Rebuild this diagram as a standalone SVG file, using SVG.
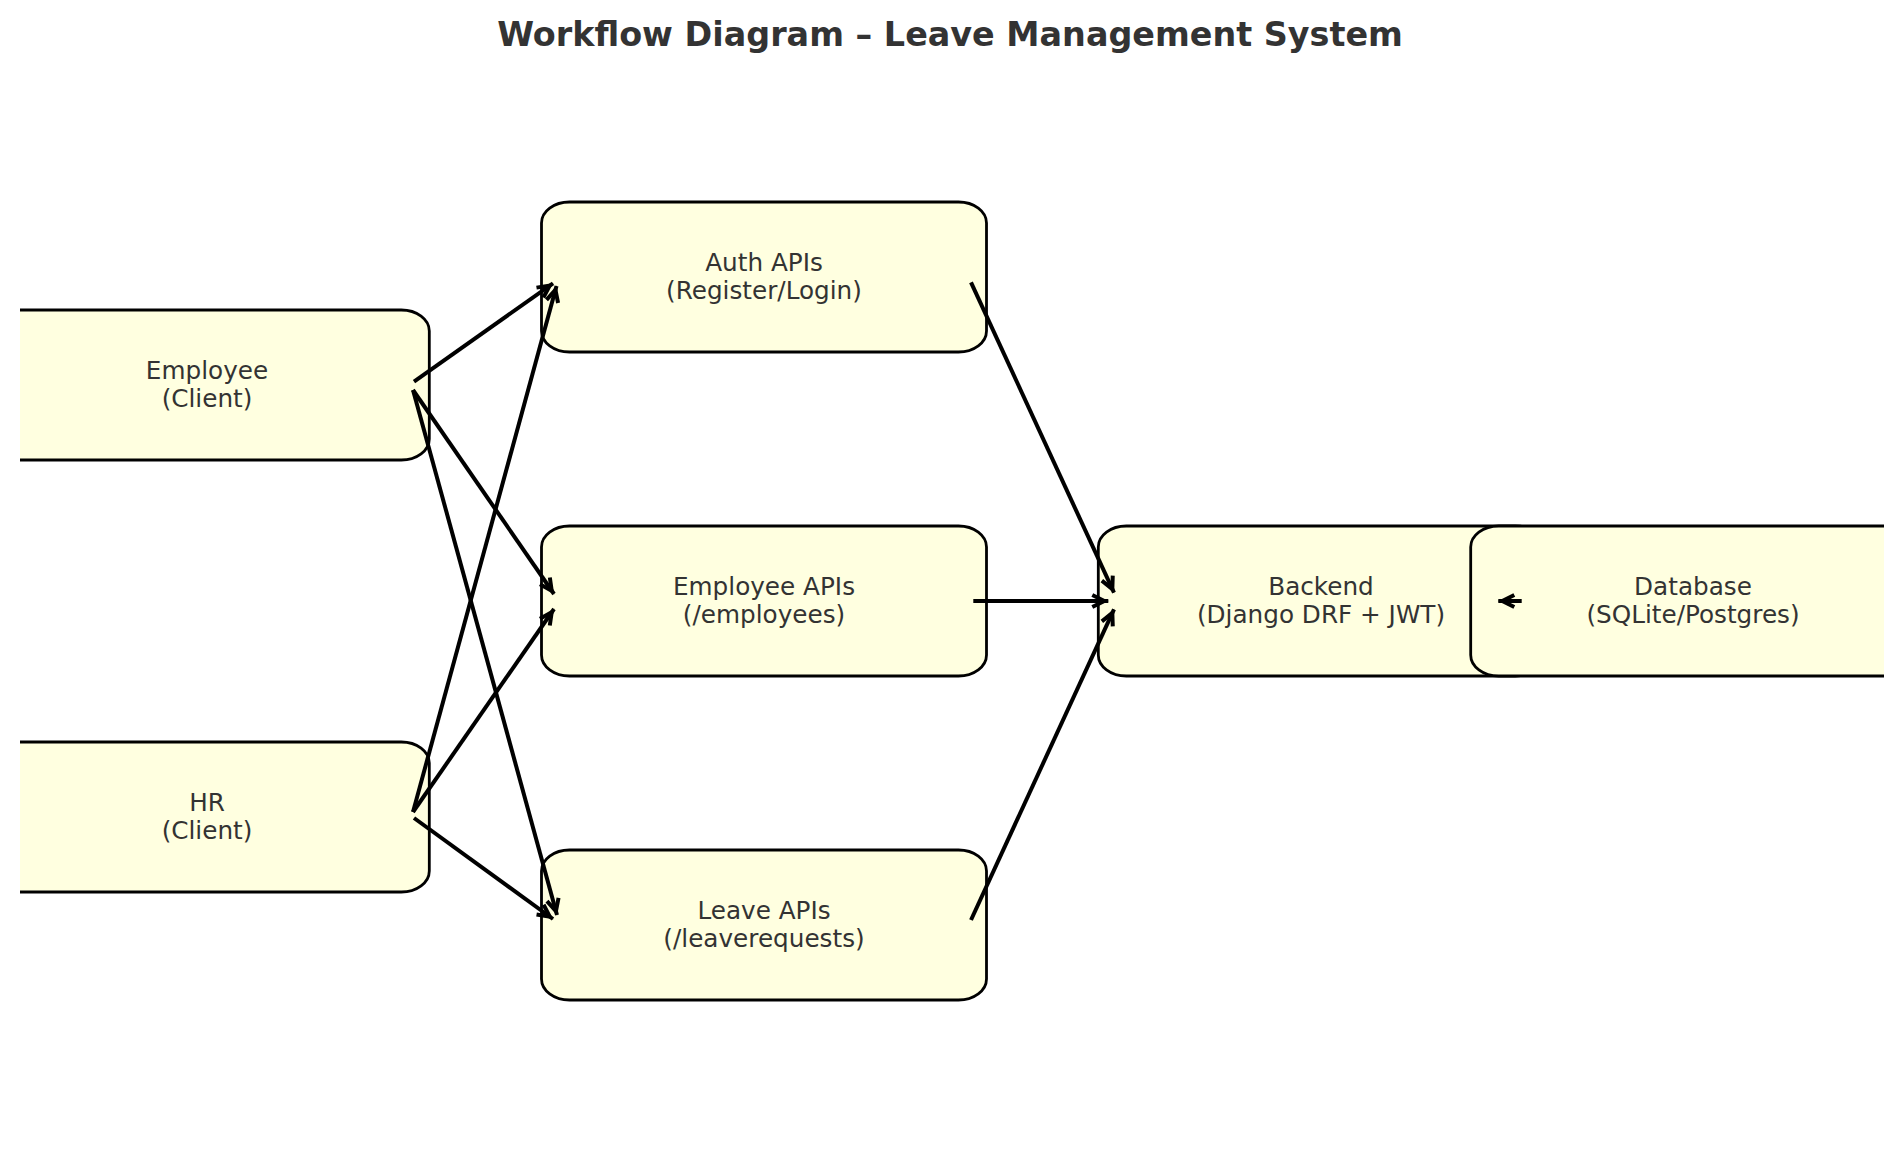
<svg xmlns="http://www.w3.org/2000/svg" width="1900" height="1160" viewBox="0 0 1900 1160">
  <style>
    .box { fill: #FFFFE0; stroke: #000; stroke-width: 2.8; }
    .lbl { font-family: "DejaVu Sans", "Liberation Sans", sans-serif; font-size: 24.7px; fill: #333333; text-anchor: middle; }
    .title { font-family: "DejaVu Sans", "Liberation Sans", sans-serif; font-size: 33.4px; font-weight: bold; fill: #333333; text-anchor: middle; }
    .arrow { fill: none; stroke: #000; stroke-width: 4; marker-end: url(#head); }
  </style>
  <defs>
    <clipPath id="axes">
      <rect x="20" y="0" width="1864" height="1160"/>
    </clipPath>
    <marker id="head" markerUnits="userSpaceOnUse" markerWidth="26" markerHeight="26" viewBox="-17 -13 26 26" refX="4" refY="0" orient="auto" overflow="visible">
      <path d="M -12 -6 L 0 0 L -12 6" fill="none" stroke="#000" stroke-width="4" stroke-linejoin="miter" stroke-linecap="butt"/>
    </marker>
  </defs>
  <rect width="1900" height="1160" fill="#ffffff"/>
  <text class="title" x="950" y="45.5">Workflow Diagram – Leave Management System</text>

  <g clip-path="url(#axes)">
    <g id="node-employee">
      <rect class="box" x="-15.7" y="310" width="445" height="150" rx="28" ry="21"/>
      <text class="lbl" x="207" y="378.5">Employee</text>
      <text class="lbl" x="207" y="407">(Client)</text>
    </g>
    <g id="node-hr">
      <rect class="box" x="-15.7" y="742" width="445" height="150" rx="28" ry="21"/>
      <text class="lbl" x="207" y="810.5">HR</text>
      <text class="lbl" x="207" y="839">(Client)</text>
    </g>
    <g id="node-auth">
      <rect class="box" x="541.5" y="202" width="445" height="150" rx="28" ry="21"/>
      <text class="lbl" x="764" y="270.5">Auth APIs</text>
      <text class="lbl" x="764" y="299">(Register/Login)</text>
    </g>
    <g id="node-employee-apis">
      <rect class="box" x="541.5" y="526" width="445" height="150" rx="28" ry="21"/>
      <text class="lbl" x="764" y="594.5">Employee APIs</text>
      <text class="lbl" x="764" y="623">(/employees)</text>
    </g>
    <g id="node-leave-apis">
      <rect class="box" x="541.5" y="850" width="445" height="150" rx="28" ry="21"/>
      <text class="lbl" x="764" y="918.5">Leave APIs</text>
      <text class="lbl" x="764" y="947">(/leaverequests)</text>
    </g>
    <g id="node-backend">
      <rect class="box" x="1098.3" y="526" width="445" height="150" rx="28" ry="21"/>
      <text class="lbl" x="1321" y="594.5">Backend</text>
      <text class="lbl" x="1321" y="623">(Django DRF + JWT)</text>
    </g>
    <g id="node-database">
      <rect class="box" x="1470.7" y="526" width="445" height="150" rx="28" ry="21"/>
      <text class="lbl" x="1693" y="594.5">Database</text>
      <text class="lbl" x="1693" y="623">(SQLite/Postgres)</text>
    </g>
  </g>

  <g id="connectors">
    <line class="arrow" x1="414" y1="381.7" x2="553" y2="283.3"/>
    <line class="arrow" x1="413" y1="390" x2="554" y2="594"/>
    <line class="arrow" x1="413" y1="390" x2="557" y2="915"/>
    <line class="arrow" x1="413" y1="812" x2="556.5" y2="286"/>
    <line class="arrow" x1="413" y1="812" x2="554" y2="609"/>
    <line class="arrow" x1="414" y1="818" x2="553" y2="919"/>
    <line class="arrow" x1="971" y1="282.3" x2="1114" y2="592.7"/>
    <line class="arrow" x1="973.3" y1="601" x2="1108.3" y2="601"/>
    <line class="arrow" x1="971" y1="920" x2="1114" y2="609.3"/>
    <line class="arrow" x1="1521.7" y1="601" x2="1498.3" y2="601"/>
  </g>
</svg>
